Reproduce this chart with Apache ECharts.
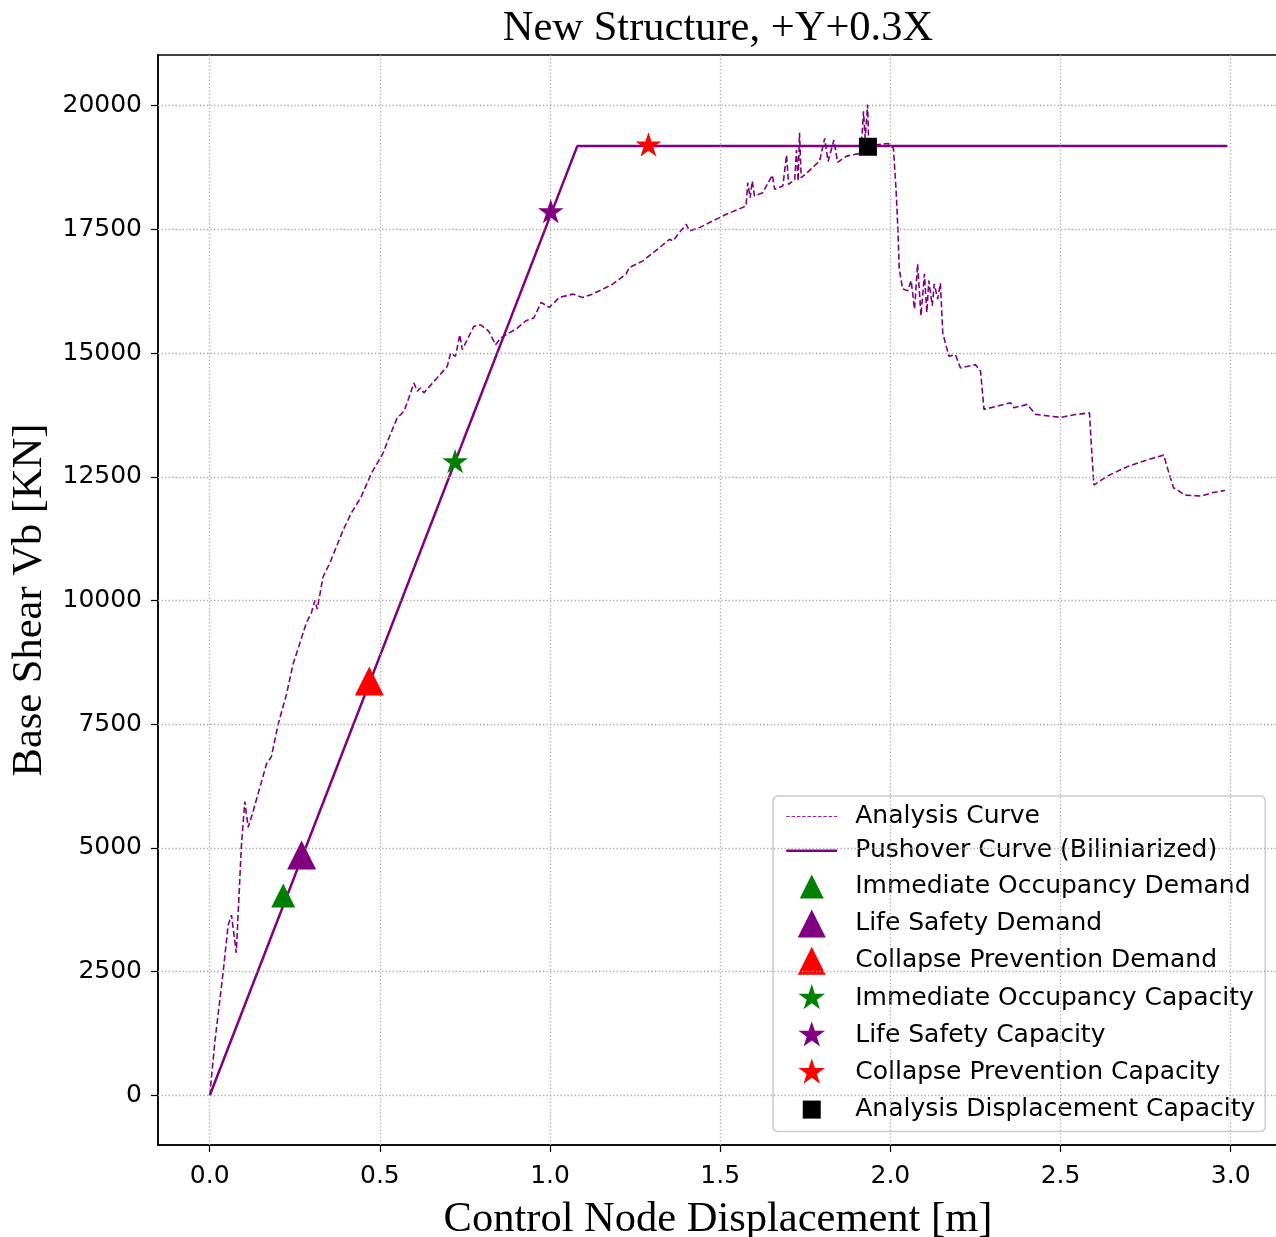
<!DOCTYPE html>
<html>
<head>
<meta charset="utf-8">
<script src="https://cdn.jsdelivr.net/npm/echarts@6/dist/echarts.min.js"></script>
<style>
  html, body { margin: 0; padding: 0; background: #fff; }
  #chart { width: 1276px; height: 1237px; }
</style>
</head>
<body>
<div id="chart"></div>
<script>
// Pushover analysis: capacity curve from the analysis (dashed) and its bilinear idealisation
const analysisCurve = [
  [0, 0], [0.015, 1076], [0.039, 2465], [0.054, 3437], [0.064, 3646], [0.078, 2882],
  [0.093, 5035], [0.103, 5937], [0.113, 5417], [0.127, 5729], [0.167, 6701], [0.181, 6840],
  [0.201, 7500], [0.225, 8090], [0.245, 8715], [0.284, 9549], [0.299, 9757], [0.309, 10000],
  [0.316, 9826], [0.333, 10480], [0.353, 10757], [0.392, 11423], [0.416, 11766], [0.445, 12096],
  [0.475, 12568], [0.509, 12972], [0.524, 13242], [0.551, 13690], [0.571, 13824], [0.585, 14093],
  [0.600, 14395], [0.610, 14227], [0.619, 14294], [0.629, 14194], [0.668, 14496], [0.698, 14731],
  [0.708, 15000], [0.722, 14933], [0.735, 15370], [0.742, 15067], [0.776, 15538], [0.796, 15571],
  [0.820, 15437], [0.840, 15168], [0.855, 15302], [0.904, 15504], [0.929, 15652], [0.952, 15706],
  [0.974, 16022], [0.998, 15921], [1.027, 16122], [1.067, 16190], [1.096, 16122], [1.125, 16190],
  [1.184, 16391], [1.223, 16593], [1.233, 16727], [1.273, 16862], [1.322, 17130], [1.351, 17298],
  [1.361, 17265], [1.380, 17433], [1.400, 17601], [1.410, 17466], [1.439, 17534], [1.478, 17668],
  [1.518, 17802], [1.576, 17970], [1.581, 18441], [1.588, 18138], [1.594, 18474], [1.601, 18172],
  [1.625, 18239], [1.653, 18595], [1.660, 18306], [1.684, 18374], [1.695, 19000], [1.701, 18407],
  [1.719, 18508], [1.724, 19100], [1.729, 18474], [1.733, 19450], [1.738, 18542], [1.753, 18630],
  [1.792, 18878], [1.807, 19336], [1.817, 18870], [1.834, 19302], [1.845, 18850], [1.871, 18978],
  [1.911, 19033], [1.917, 19411], [1.921, 19885], [1.926, 19343], [1.933, 20020], [1.936, 19309],
  [1.958, 19207], [1.993, 19234], [2.009, 19140], [2.017, 18259], [2.022, 17514], [2.026, 16701],
  [2.036, 16294], [2.051, 16260], [2.061, 16463], [2.071, 15888], [2.080, 16802], [2.090, 15752],
  [2.100, 16599], [2.107, 15820], [2.113, 16463], [2.123, 15955], [2.129, 16396], [2.139, 16091],
  [2.147, 16408], [2.154, 15400], [2.172, 14933], [2.191, 14967], [2.206, 14698], [2.250, 14765],
  [2.265, 14631], [2.275, 13861], [2.353, 13995], [2.363, 13894], [2.402, 13961], [2.427, 13760],
  [2.466, 13727], [2.500, 13700], [2.544, 13757], [2.585, 13790], [2.591, 13085], [2.598, 12332],
  [2.637, 12513], [2.700, 12715], [2.759, 12849], [2.803, 12937], [2.817, 12614], [2.832, 12278],
  [2.866, 12130], [2.915, 12110], [2.944, 12177], [2.983, 12224]
];

const bilinearCurve = [[0, 0], [1.08, 19180], [2.99, 19180]];

// Performance points [displacement (m), base shear (kN)]
const ioDemand = [[0.216, 4040]];
const lsDemand = [[0.270, 4856]];
const cpDemand = [[0.469, 8375]];
const ioCapacity = [[0.721, 12790]];
const lsCapacity = [[1.002, 17840]];
const cpCapacity = [[1.289, 19190]];
const displacementCapacity = [[1.934, 19167]];

const xTicks = [0, 0.5, 1.0, 1.5, 2.0, 2.5, 3.0];
const yTicks = [0, 2500, 5000, 7500, 10000, 12500, 15000, 17500, 20000];

const seriesNames = [
  'Analysis Curve',
  'Pushover Curve (Biliniarized)',
  'Immediate Occupancy Demand',
  'Life Safety Demand',
  'Collapse Prevention Demand',
  'Immediate Occupancy Capacity',
  'Life Safety Capacity',
  'Collapse Prevention Capacity',
  'Analysis Displacement Capacity'
];

// Symbol shapes; the leading moveTo points pad the box so the glyph sits centred
const STAR = 'path://M-100,-100 M100,100 M0,-100 L22.45,-30.9 L95.11,-30.9 L36.33,11.8 L58.78,80.9 L0,38.2 L-58.78,80.9 L-36.33,11.8 L-95.11,-30.9 L-22.45,-30.9 Z';
const SMALL_TRIANGLE = 'path://M0,0 M28,28 M14,2 L26,26 L2,26 Z';
const TRIANGLE = 'path://M0,0 M28,28 M14,0 L28,28 L0,28 Z';
const SMALL_SQUARE = 'path://M-14,-14 M14,14 M-9,-9 L9,-9 L9,9 L-9,9 Z';

const PURPLE = '#800080';
const GREEN = '#008000';
const RED = '#ff0000';
const SERIF = 'Liberation Serif';

function marker(name, data, symbol, size, color) {
  return {
    name: name, type: 'scatter', data: data, symbol: symbol, symbolSize: size,
    symbolKeepAspect: true, itemStyle: { color: color, opacity: 1 }, z: 5
  };
}

const legendData = seriesNames.map((n, i) => {
  if (i === 0) {
    return { name: n, itemStyle: { opacity: 0 },
      lineStyle: { color: '#a020a0', width: 1.1, type: [3.5, 1.8], opacity: 1 } };
  }
  if (i === 1) {
    return { name: n, itemStyle: { opacity: 0 },
      lineStyle: { color: PURPLE, width: 2.5, type: 'solid', opacity: 1 } };
  }
  return { name: n };
});

const chart = echarts.init(document.getElementById('chart'), null, { renderer: 'canvas' });

const option = {
  animation: false,
  backgroundColor: '#ffffff',
  title: {
    text: 'New Structure, +Y+0.3X',
    left: 713, top: 2, textAlign: 'center',
    textStyle: { fontFamily: SERIF, fontSize: 42.5, fontWeight: 'normal', color: '#000' }
  },
  grid: {
    left: 158, top: 55, right: -2, bottom: 92,
    outerBoundsMode: 'none', containLabel: false,
    show: true, borderColor: '#000', borderWidth: 1.5, backgroundColor: 'transparent'
  },
  xAxis: {
    type: 'value', min: -0.152, max: 3.139,
    name: 'Control Node Displacement [m]', nameLocation: 'middle', nameGap: 53,
    nameTextStyle: { fontFamily: SERIF, fontSize: 42.5, color: '#000' },
    axisLine: { onZero: false, lineStyle: { color: '#000', width: 1.5 } },
    axisTick: { customValues: xTicks, inside: false, length: 7, lineStyle: { color: '#000', width: 1.2 } },
    axisLabel: {
      customValues: xTicks, margin: 19, color: '#000',
      fontFamily: 'DejaVu Sans', fontSize: 25,
      formatter: v => Number(v).toFixed(1)
    },
    splitLine: { show: false }
  },
  yAxis: {
    type: 'value', min: -1001, max: 21021,
    name: 'Base Shear Vb [KN]', nameLocation: 'middle', nameGap: 106,
    nameTextStyle: { fontFamily: SERIF, fontSize: 42.5, color: '#000' },
    axisLine: { onZero: false, lineStyle: { color: '#000', width: 1.5 } },
    axisTick: { customValues: yTicks, inside: false, length: 7, lineStyle: { color: '#000', width: 1.2 } },
    axisLabel: {
      customValues: yTicks, margin: 16, color: '#000',
      fontFamily: 'DejaVu Sans', fontSize: 25,
      formatter: v => String(Math.round(v))
    },
    splitLine: { show: false }
  },
  legend: {
    orient: 'vertical', left: 773, top: 796,
    data: legendData,
    itemWidth: 51, itemHeight: 28, itemGap: 9.2,
    padding: [8, 10, 8, 12],
    backgroundColor: 'rgba(255,255,255,0.8)',
    borderColor: '#cccccc', borderWidth: 1.5, borderRadius: 5,
    textStyle: { fontFamily: 'DejaVu Sans', fontSize: 25, color: '#000', padding: [0, 0, 0, 13] }
  },
  series: [
    {
      // dotted grid drawn at the tick positions
      name: 'grid', type: 'line', data: [], silent: true, z: 0,
      markLine: {
        silent: true, symbol: ['none', 'none'], animation: false,
        label: { show: false },
        lineStyle: { color: '#a8a8a8', width: 1.3, type: [1.3, 2.2] },
        emphasis: { disabled: true },
        data: xTicks.map(v => ({ xAxis: v })).concat(yTicks.map(v => ({ yAxis: v })))
      }
    },
    {
      name: seriesNames[0], type: 'line', data: analysisCurve,
      showSymbol: false, symbol: 'none', z: 3,
      lineStyle: { color: PURPLE, width: 1.6, type: [6, 3] },
      itemStyle: { color: PURPLE }
    },
    {
      name: seriesNames[1], type: 'line', data: bilinearCurve,
      showSymbol: false, symbol: 'none', z: 3,
      lineStyle: { color: PURPLE, width: 2.5 },
      itemStyle: { color: PURPLE }
    },
    marker(seriesNames[2], ioDemand, SMALL_TRIANGLE, 28, GREEN),
    marker(seriesNames[3], lsDemand, TRIANGLE, 29, PURPLE),
    marker(seriesNames[4], cpDemand, TRIANGLE, 29, RED),
    marker(seriesNames[5], ioCapacity, STAR, 27, GREEN),
    marker(seriesNames[6], lsCapacity, STAR, 27, PURPLE),
    marker(seriesNames[7], cpCapacity, STAR, 27, RED),
    marker(seriesNames[8], displacementCapacity, SMALL_SQUARE, 28, '#000000')
  ]
};

chart.setOption(option);
</script>
</body>
</html>
